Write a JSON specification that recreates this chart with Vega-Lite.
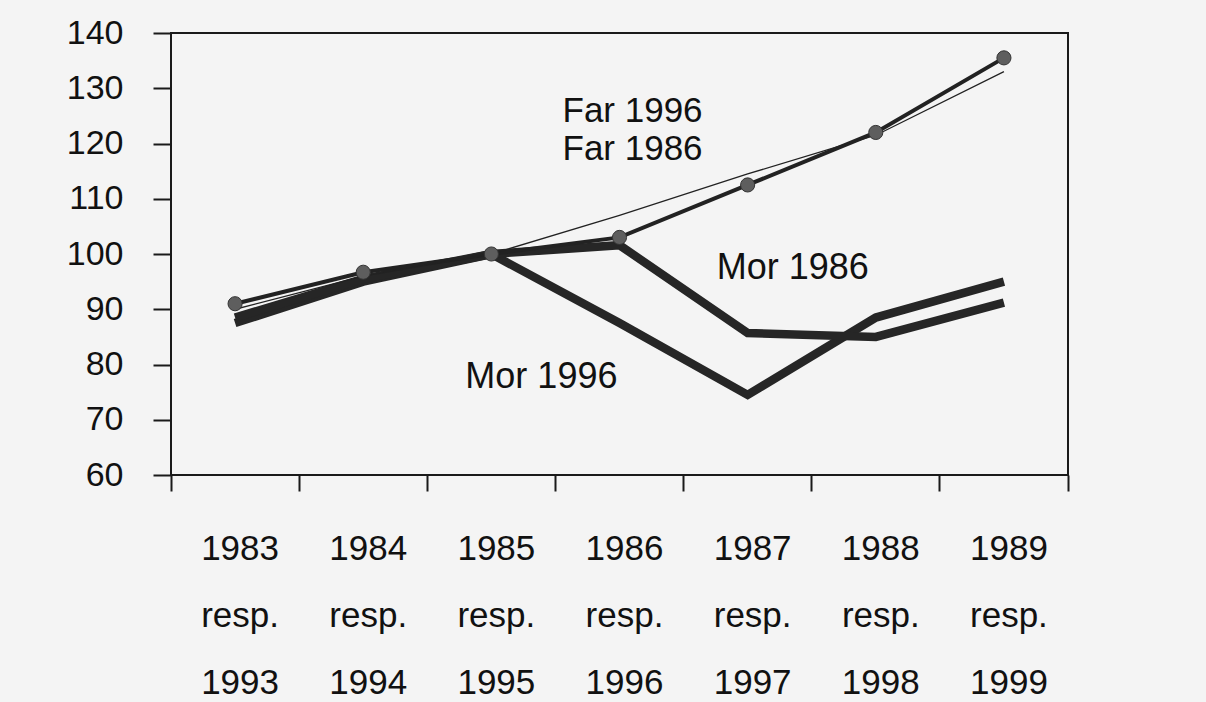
{
  "$schema": "https://vega.github.io/schema/vega-lite/v6.json",
  "width": 897,
  "height": 442,
  "autosize": {"type": "none"},
  "padding": {"left": 171, "top": 33, "right": 138, "bottom": 227},
  "background": "#f4f4f4",
  "config": {
    "view": {"stroke": "#1a1a1a", "strokeWidth": 2},
    "font": "Liberation Sans, Arial"
  },
  "datasets": {
    "series": [
      {"series": "Mor 1996", "cat": "1983 resp. 1993", "value": 87.5},
      {"series": "Mor 1996", "cat": "1984 resp. 1994", "value": 95},
      {"series": "Mor 1996", "cat": "1985 resp. 1995", "value": 100},
      {"series": "Mor 1996", "cat": "1986 resp. 1996", "value": 87.5},
      {"series": "Mor 1996", "cat": "1987 resp. 1997", "value": 74.5},
      {"series": "Mor 1996", "cat": "1988 resp. 1998", "value": 88.5},
      {"series": "Mor 1996", "cat": "1989 resp. 1999", "value": 95},
      {"series": "Mor 1986", "cat": "1983 resp. 1993", "value": 88.5},
      {"series": "Mor 1986", "cat": "1984 resp. 1994", "value": 95.5},
      {"series": "Mor 1986", "cat": "1985 resp. 1995", "value": 100},
      {"series": "Mor 1986", "cat": "1986 resp. 1996", "value": 101.6},
      {"series": "Mor 1986", "cat": "1987 resp. 1997", "value": 85.7},
      {"series": "Mor 1986", "cat": "1988 resp. 1998", "value": 85},
      {"series": "Mor 1986", "cat": "1989 resp. 1999", "value": 91.2},
      {"series": "Far 1986", "cat": "1983 resp. 1993", "value": 91},
      {"series": "Far 1986", "cat": "1984 resp. 1994", "value": 96.7},
      {"series": "Far 1986", "cat": "1985 resp. 1995", "value": 100},
      {"series": "Far 1986", "cat": "1986 resp. 1996", "value": 103},
      {"series": "Far 1986", "cat": "1987 resp. 1997", "value": 112.5},
      {"series": "Far 1986", "cat": "1988 resp. 1998", "value": 122},
      {"series": "Far 1986", "cat": "1989 resp. 1999", "value": 135.5},
      {"series": "Far 1996", "cat": "1983 resp. 1993", "value": 90},
      {"series": "Far 1996", "cat": "1984 resp. 1994", "value": 96},
      {"series": "Far 1996", "cat": "1985 resp. 1995", "value": 100},
      {"series": "Far 1996", "cat": "1986 resp. 1996", "value": 107},
      {"series": "Far 1996", "cat": "1987 resp. 1997", "value": 114.5},
      {"series": "Far 1996", "cat": "1988 resp. 1998", "value": 121.5},
      {"series": "Far 1996", "cat": "1989 resp. 1999", "value": 133}
    ],
    "labels": [
      {"text": "Far 1996", "cat": "1986 resp. 1996", "value": 125.9},
      {"text": "Far 1986", "cat": "1986 resp. 1996", "value": 119.0},
      {"text": "Mor 1986", "cat": "1987 resp. 1997", "value": 97.5},
      {"text": "Mor 1996", "cat": "1985 resp. 1995", "value": 77.7}
    ]
  },
  "encoding": {
    "x": {
      "field": "cat",
      "type": "ordinal",
      "sort": null,
      "scale": {"type": "band", "paddingInner": 0, "paddingOuter": 0},
      "axis": {
        "title": null,
        "domain": false,
        "grid": false,
        "bandPosition": 1,
        "tickExtra": true,
        "tickSize": 16,
        "tickWidth": 2,
        "tickColor": "#1a1a1a",
        "labelAngle": 0,
        "labelFontSize": 35,
        "labelLineHeight": 67,
        "labelPadding": 40,
        "labelOffset": 5,
        "labelColor": "#111111",
        "labelExpr": "split(datum.label, ' ')"
      }
    },
    "y": {
      "field": "value",
      "type": "quantitative",
      "scale": {"domain": [60, 140], "nice": false, "zero": false},
      "axis": {
        "title": null,
        "domain": false,
        "grid": false,
        "values": [60, 70, 80, 90, 100, 110, 120, 130, 140],
        "tickSize": 18,
        "tickWidth": 2,
        "tickColor": "#1a1a1a",
        "labelFontSize": 34,
        "labelPadding": 30,
        "labelColor": "#111111",
        "labelOverlap": false,
        "labelFlush": false
      }
    }
  },
  "layer": [
    {
      "data": {"name": "series"},
      "transform": [{"filter": "datum.series === 'Mor 1996'"}],
      "mark": {"type": "line", "color": "#262626", "strokeWidth": 8.5}
    },
    {
      "data": {"name": "series"},
      "transform": [{"filter": "datum.series === 'Mor 1986'"}],
      "mark": {"type": "line", "color": "#262626", "strokeWidth": 8.5}
    },
    {
      "data": {"name": "series"},
      "transform": [{"filter": "datum.series === 'Far 1986'"}],
      "mark": {"type": "line", "color": "#222222", "strokeWidth": 4}
    },
    {
      "data": {"name": "series"},
      "transform": [{"filter": "datum.series === 'Far 1996'"}],
      "mark": {"type": "line", "color": "#222222", "strokeWidth": 1.3}
    },
    {
      "data": {"name": "series"},
      "transform": [{"filter": "datum.series === 'Far 1986'"}],
      "mark": {"type": "point", "filled": true, "size": 200, "color": "#5e5e5e", "stroke": "#333333", "strokeWidth": 1, "opacity": 1}
    },
    {
      "data": {"name": "labels"},
      "transform": [{"filter": "datum.cat === '1986 resp. 1996'"}],
      "mark": {"type": "text", "align": "left", "baseline": "middle", "dx": -57, "fontSize": 35, "color": "#111111"},
      "encoding": {"text": {"field": "text"}}
    },
    {
      "data": {"name": "labels"},
      "transform": [{"filter": "datum.text === 'Mor 1986'"}],
      "mark": {"type": "text", "align": "left", "baseline": "middle", "dx": -31, "fontSize": 36, "color": "#111111"},
      "encoding": {"text": {"field": "text"}}
    },
    {
      "data": {"name": "labels"},
      "transform": [{"filter": "datum.text === 'Mor 1996'"}],
      "mark": {"type": "text", "align": "left", "baseline": "middle", "dx": -26, "fontSize": 36, "color": "#111111"},
      "encoding": {"text": {"field": "text"}}
    }
  ]
}
